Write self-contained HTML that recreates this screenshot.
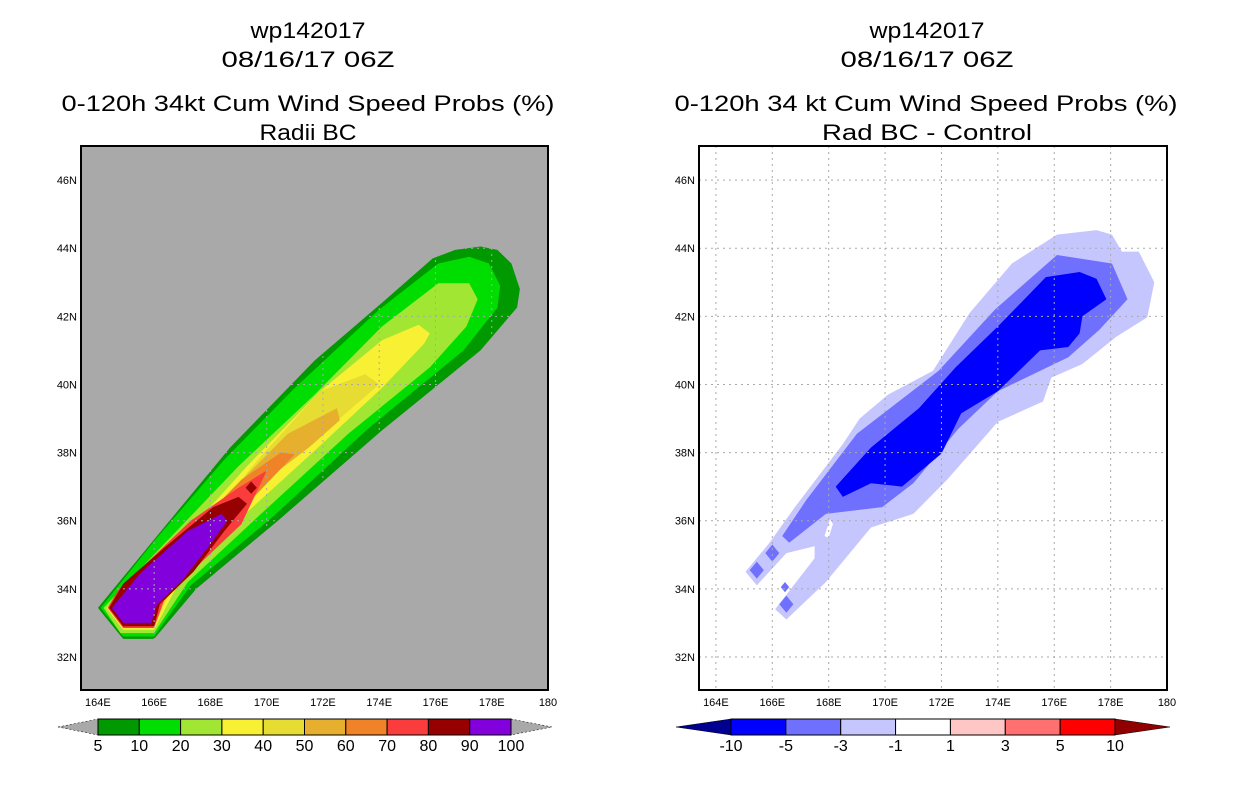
<!DOCTYPE html>
<html><head><meta charset="utf-8"><style>
html,body{margin:0;padding:0;background:#fff;}
svg text{font-family:"Liberation Sans",sans-serif;}
</style></head><body>
<svg id="s" width="1236" height="800" xmlns="http://www.w3.org/2000/svg">
<rect width="1236" height="800" fill="#fff"/>
<g font-size="22" text-anchor="middle" fill="#000">
<text x="308" y="38" textLength="115" lengthAdjust="spacingAndGlyphs">wp142017</text>
<text x="308" y="67" textLength="173" lengthAdjust="spacingAndGlyphs">08/16/17 06Z</text>
<text x="308" y="111" textLength="493" lengthAdjust="spacingAndGlyphs">0-120h 34kt Cum Wind Speed Probs (%)</text>
<text x="308" y="140" textLength="97" lengthAdjust="spacingAndGlyphs">Radii BC</text>
<text x="927" y="38" textLength="115" lengthAdjust="spacingAndGlyphs">wp142017</text>
<text x="927" y="67" textLength="173" lengthAdjust="spacingAndGlyphs">08/16/17 06Z</text>
<text x="926" y="111" textLength="503" lengthAdjust="spacingAndGlyphs">0-120h 34 kt Cum Wind Speed Probs (%)</text>
<text x="927" y="140" textLength="210" lengthAdjust="spacingAndGlyphs">Rad BC - Control</text>
</g>
<g id="L"></g>
<g id="R"></g>
<g id="CB"></g>
</svg>
<script>
const lonTicks=[164,166,168,170,172,174,176,178,180];
const latTicks=[32,34,36,38,40,42,44,46];
const leftLevels=['5','10','20','30','40','50','60','70','80','90','100'];
const leftColors=['#009900','#00dd00','#a0e632','#f8f032','#e6dc32','#e6af2d','#f08228','#fa3c3c','#960000','#8200dc'];
const rightLevels=['-10','-5','-3','-1','1','3','5','10'];
const rightColors=['#0000ff','#7070ff','#c6c6ff','#ffffff','#ffc6c6','#ff7070','#ff0000'];
// contour polygons [lon,lat]
const p5=[[164.0,33.44],[164.9,32.53],[166.0,32.53],[167.5,34.0],[170.4,36.0],[174.1,38.65],[177.6,41.0],[178.9,42.26],[179.0,42.8],[178.7,43.55],[178.2,43.95],[177.6,44.05],[176.7,43.95],[175.9,43.7],[174.1,42.4],[171.7,40.7],[168.7,38.15],[166.35,35.8]];
const p10=[[164.1,33.44],[164.9,32.6],[166.0,32.6],[167.3,34.1],[170.2,36.1],[173.6,38.7],[177.0,41.0],[178.2,42.26],[178.3,42.9],[177.9,43.55],[177.2,43.75],[176.1,43.55],[174.0,42.2],[171.0,39.9],[168.5,37.8],[166.0,35.4]];
const p20=[[164.2,33.44],[164.8,32.7],[166.0,32.7],[167.2,34.2],[169.8,36.2],[172.9,38.55],[175.8,40.5],[177.1,41.7],[177.5,42.5],[177.2,42.97],[176.1,42.97],[174.1,41.7],[171.7,39.7],[169.0,37.6],[166.1,35.1]];
const p30=[[164.3,33.44],[164.9,32.8],[166.0,32.8],[166.95,34.3],[169.1,36.1],[171.7,38.05],[174.1,39.9],[175.6,41.2],[175.8,41.5],[175.4,41.75],[174.1,41.3],[171.9,39.8],[169.3,37.6],[166.35,34.9]];
const p40=[[164.4,33.44],[164.9,32.9],[166.0,32.9],[166.85,34.4],[168.6,36.0],[170.8,37.8],[172.6,39.0],[174.0,40.0],[173.5,40.3],[171.9,39.8],[169.7,37.8],[166.6,34.7]];
const p50=[[164.45,33.44],[164.95,32.95],[166.0,32.95],[166.7,34.5],[168.3,35.8],[170.0,37.2],[171.5,38.15],[172.6,38.95],[172.5,39.3],[170.75,38.55],[168.4,36.6],[166.1,34.4]];
const p60=[[164.5,33.44],[164.95,32.98],[166.0,32.98],[166.6,34.6],[168.0,35.6],[169.55,36.7],[171.0,37.95],[170.5,38.0],[169.1,37.2],[166.95,35.4]];
const p70=[[164.35,33.44],[164.9,32.85],[166.0,32.85],[166.35,33.65],[167.7,34.8],[169.1,35.9],[170.0,37.47],[169.0,36.97],[167.3,36.0],[164.7,33.94]];
const p80=[[164.4,33.44],[164.9,32.9],[166.0,32.9],[166.2,33.55],[167.4,34.5],[168.5,35.7],[169.3,36.5],[169.0,36.7],[168.1,36.4],[166.35,35.2],[164.9,34.15]];
const p80b=[[169.45,37.15],[169.65,36.97],[169.45,36.79],[169.25,36.97]];
const p90=[[164.5,33.44],[164.9,33.0],[165.9,33.0],[166.1,33.55],[166.95,34.2],[167.9,35.2],[168.6,36.0],[168.4,36.2],[167.2,35.7],[165.5,34.45]];
const leftPolys=[[p5,0],[p10,1],[p20,2],[p30,3],[p40,4],[p50,5],[p60,6],[p70,7],[p80,8],[p80b,8],[p90,9]];
const d1=[[177.5,44.53],[178.05,44.4],[178.4,43.9],[179.0,43.9],[179.55,43.0],[179.3,41.97],[178.2,41.4],[177.0,40.6],[175.9,40.2],[175.6,39.5],[174.0,38.9],[172.2,37.2],[171.0,36.2],[169.5,35.8],[167.9,34.2],[166.5,33.1],[166.1,33.4],[167.5,34.9],[167.5,35.25],[166.5,35.05],[165.45,34.1],[165.05,34.5],[165.9,35.35],[166.8,36.4],[168.5,38.25],[169.1,39.0],[170.1,39.7],[171.7,40.4],[173.0,42.1],[174.5,43.55],[176.1,44.4]];
const dHole=[[168.05,36.05],[168.15,35.9],[168.0,35.5],[167.85,35.55]];
const d3=[[176.1,43.8],[178.05,43.55],[178.6,42.5],[177.6,41.6],[176.5,40.8],[174.0,39.8],[172.6,38.7],[171.0,37.1],[169.9,36.4],[167.9,36.2],[166.6,35.35],[166.35,35.55],[167.2,36.6],[169.0,38.55],[171.9,40.4],[173.9,42.2]];
const d5=[[176.9,43.3],[177.5,43.1],[177.85,42.5],[177.0,42.0],[176.9,41.5],[176.5,41.1],[175.5,41.0],[174.0,39.8],[172.7,39.15],[172.0,37.97],[170.6,37.0],[169.5,37.1],[168.5,36.7],[168.25,37.0],[169.5,38.15],[171.2,39.3],[172.5,40.5],[174.0,41.7],[175.0,42.55],[175.7,43.15]];
const diamonds=[[166.0,35.05,0.25],[165.45,34.55,0.25],[166.45,34.05,0.15],[166.5,33.55,0.25]];
const rightPolys=[[d1,2],[dHole,3],[d3,1],[d5,0]];

const NS='http://www.w3.org/2000/svg';
function mk(tag,parent,attrs){const e=document.createElementNS(NS,tag);for(const k in attrs)e.setAttribute(k,attrs[k]);parent.appendChild(e);return e;}
function axes(x0,x1){const lonMin=163.4,lonMax=180,latMin=31.03,latMax=47,y0=146,y1=690;
 return {x:l=>x0+(l-lonMin)/(lonMax-lonMin)*(x1-x0), y:a=>y1-(a-latMin)/(latMax-latMin)*(y1-y0),x0,x1,y0,y1};}
const A=axes(81,548), B=axes(699,1167);
function poly(g,ax,pts,fill){return mk('polygon',g,{points:pts.map(p=>ax.x(p[0]).toFixed(1)+','+ax.y(p[1]).toFixed(1)).join(' '),fill:fill});}
function frame(g,ax,bg,name){
 const r=mk('rect',g,{x:ax.x0,y:ax.y0,width:ax.x1-ax.x0,height:ax.y1-ax.y0,fill:bg});
 
 return r;}
function grid(g,ax,color,name){
 lonTicks.forEach(l=>{if(l<180){const ln=mk('line',g,{x1:ax.x(l),x2:ax.x(l),y1:ax.y0,y2:ax.y1,stroke:color,'stroke-width':1,'stroke-dasharray':'2,4'});}});
 latTicks.forEach(a=>{const ln=mk('line',g,{x1:ax.x0,x2:ax.x1,y1:ax.y(a),y2:ax.y(a),stroke:color,'stroke-width':1,'stroke-dasharray':'2,4'});});
}
function ticks(g,ax,name){
 const b=mk('rect',g,{x:ax.x0,y:ax.y0,width:ax.x1-ax.x0,height:ax.y1-ax.y0,fill:'none',stroke:'#000','stroke-width':2});
 
 lonTicks.forEach(l=>{const t=mk('text',g,{x:ax.x(l),y:706,'font-size':11,'text-anchor':'middle'});t.textContent=l===180?'180':l+'E';});
 latTicks.forEach(a=>{const t=mk('text',g,{x:ax.x0-4,y:ax.y(a)+4,'font-size':11,'text-anchor':'end'});t.textContent=a+'N';});
}
const L=document.getElementById('L'),R=document.getElementById('R');
frame(L,A,'#a9a9a9','left-map');
leftPolys.forEach(([p,c])=>{const e=poly(L,A,p,leftColors[c]);});
grid(L,A,'#a9a9a9','left-map');
ticks(L,A,'left-map');
frame(R,B,'#ffffff','right-map');
rightPolys.forEach(([p,c])=>{const e=poly(R,B,p,rightColors[c]);});
diamonds.forEach(([lo,la,h])=>{const e=poly(R,B,[[lo,la+h],[lo+h,la],[lo,la-h],[lo-h,la]],rightColors[1]);});
grid(R,B,'#a9a9a9','right-map');
ticks(R,B,'right-map');
const CB=document.getElementById('CB');
function colorbar(x0,x1,tl,tr,colors,labels,lc,rc,name){
 const y0=719,y1=735,ym=727,n=colors.length,w=(x1-x0)/n;
 const t1=mk('polygon',CB,{points:`${tl},${ym} ${x0},${y0} ${x0},${y1}`,fill:lc,stroke:'#000','stroke-width':0.5,'stroke-dasharray':lc==='#a9a9a9'?'2,2':'none'});
 
 const t2=mk('polygon',CB,{points:`${tr},${ym} ${x1},${y0} ${x1},${y1}`,fill:rc,stroke:'#000','stroke-width':0.5,'stroke-dasharray':rc==='#a9a9a9'?'2,2':'none'});
 
 colors.forEach((c,i)=>{const r=mk('rect',CB,{x:x0+i*w,y:y0,width:w,height:y1-y0,fill:c,stroke:'#000','stroke-width':1});});
 labels.forEach((s,i)=>{const t=mk('text',CB,{x:x0+i*w,y:751,'font-size':16,'text-anchor':'middle'});t.textContent=s;});
}
colorbar(98,511,58,552,leftColors,leftLevels,'#a9a9a9','#a9a9a9','left-colorbar');
colorbar(731,1115,676,1170,rightColors,rightLevels,'#000090','#900000','right-colorbar');
</script>
</body></html>
